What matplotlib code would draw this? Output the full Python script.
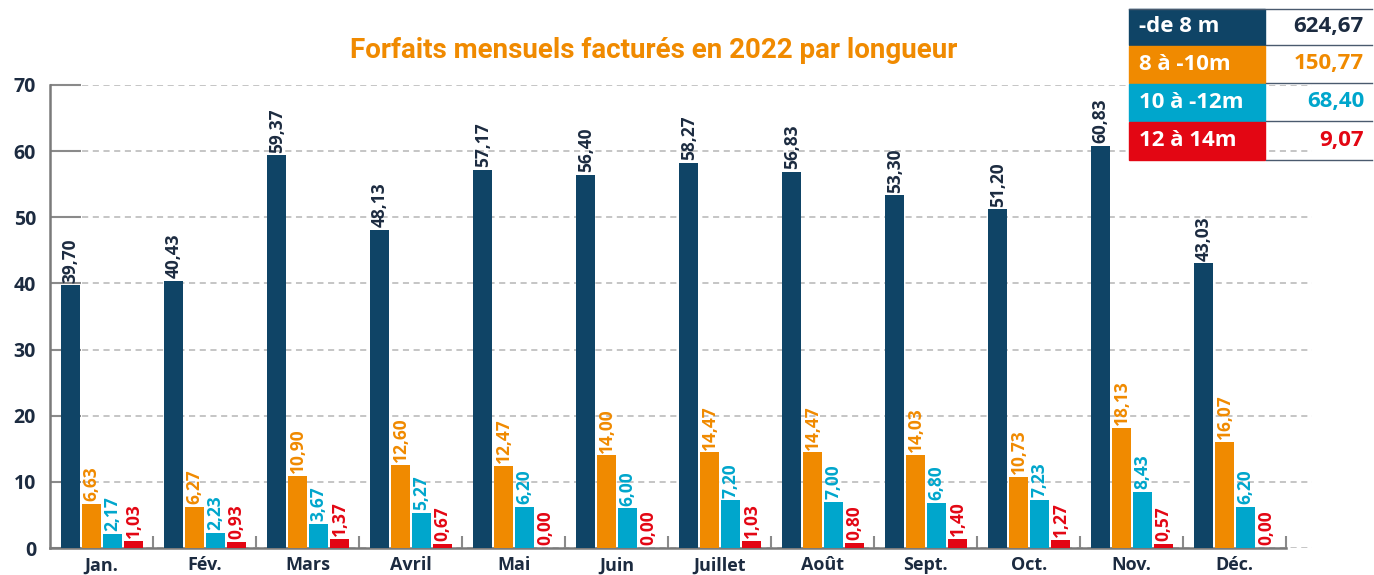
import matplotlib
matplotlib.use("Agg")
import matplotlib.pyplot as plt
from matplotlib.patches import Rectangle
from matplotlib.lines import Line2D
import numpy as np

# données
mois = ["Jan.", "Fév.", "Mars", "Avril", "Mai", "Juin", "Juillet", "Août", "Sept.", "Oct.", "Nov.", "Déc."]
moins_8m = [39.70, 40.43, 59.37, 48.13, 57.17, 56.40, 58.27, 56.83, 53.30, 51.20, 60.83, 43.03]
de_8_10m = [6.63, 6.27, 10.90, 12.60, 12.47, 14.00, 14.47, 14.47, 14.03, 10.73, 18.13, 16.07]
de_10_12m = [2.17, 2.23, 3.67, 5.27, 6.20, 6.00, 7.20, 7.00, 6.80, 7.23, 8.43, 6.20]
de_12_14m = [1.03, 0.93, 1.37, 0.67, 0.00, 0.00, 1.03, 0.80, 1.40, 1.27, 0.57, 0.00]

legende = ["-de 8 m", "8 à -10m", "10 à -12m", "12 à 14m"]
totaux = ["624,67", "150,77", "68,40", "9,07"]

NAVY = "#0f4466"
TXT = "#1c2b40"
ORANGE = "#f08a00"
BLUE = "#00a6cc"
RED = "#e30613"
couleurs = [NAVY, ORANGE, BLUE, RED]
couleurs_txt = [TXT, ORANGE, BLUE, RED]

plt.rcParams['font.family'] = ['Open Sans', 'DejaVu Sans']

fig = plt.figure(figsize=(13.74, 5.75), dpi=100)
ax = fig.add_axes([50 / 1374, 27 / 575, 1262 / 1374, 463 / 575])

series = [moins_8m, de_8_10m, de_10_12m, de_12_14m]
x = np.arange(len(mois))
width = 0.185
for k, (vals, c, ct) in enumerate(zip(series, couleurs, couleurs_txt)):
    pos = x + 0.2 + k * 0.2035
    ax.bar(pos, vals, width, color=c, zorder=3)
    for px, v in zip(pos, vals):
        ax.annotate(f"{v:.2f}".replace(".", ","), (px, v), xytext=(0, 2),
                    textcoords="offset points", rotation=90, ha="center", va="bottom",
                    fontsize=12.5, fontweight="bold", color=ct, zorder=4)

ax.set_ylim(0, 70)
ax.set_xlim(0, 12.25)
ax.set_yticks(range(0, 71, 10))
ax.tick_params(axis="y", direction="in", length=22, width=1.5, color="#8a8a8a",
               labelsize=14, labelcolor=TXT, pad=10)
for lab in ax.get_yticklabels():
    lab.set_fontweight("bold")
ax.yaxis.grid(True, linestyle=(0, (4, 3)), color="#b5b5b5", linewidth=1.1, zorder=0)

ax.set_xticks(x + 0.5)
ax.set_xticklabels(mois, fontsize=13, fontweight="bold", color=TXT)
ax.tick_params(axis="x", length=0, pad=6)
ax.set_xticks(np.arange(1, 13), minor=True)
ax.tick_params(axis="x", which="minor", direction="in", length=9, width=1.5, color="#8a8a8a")

for s in ["top", "right"]:
    ax.spines[s].set_visible(False)
ax.spines["left"].set_color("#7a7a7a")
ax.spines["left"].set_linewidth(1.8)
ax.spines["bottom"].set_color("#7a7a7a")
ax.spines["bottom"].set_linewidth(1.8)
ax.spines["bottom"].set_bounds(0, 12)
ax.set_axisbelow(True)

fig.text(654 / 1374, 1 - 50 / 575, "Forfaits mensuels facturés en 2022 par longueur",
         ha="center", va="center", fontsize=20, fontweight="bold", color=ORANGE,
         family=["Roboto", "DejaVu Sans"])

# tableau des totaux
W, H = 1374, 575
rows_y = [8, 45, 83, 121, 160]
for i, (lab, tot) in enumerate(zip(legende, totaux)):
    y0, y1 = rows_y[i], rows_y[i + 1]
    fig.patches.append(Rectangle((1129 / W, 1 - y1 / H), (1265 - 1129) / W, (y1 - y0 - 1) / H,
                                 transform=fig.transFigure, color=couleurs[i]))
    yc = 1 - (y0 + y1) / 2 / H
    fig.text(1139 / W, yc, lab, ha="left", va="center", fontsize=16, fontweight="bold", color="white")
    fig.text(1364 / W, yc, tot, ha="right", va="center", fontsize=16, fontweight="bold",
             color=couleurs_txt[i])
    fig.lines.append(Line2D([1266 / W, 1372 / W], [1 - y1 / H, 1 - y1 / H], transform=fig.transFigure,
                            color="#4a5a6e", linewidth=1))
fig.lines.append(Line2D([1129 / W, 1372 / W], [1 - 9 / H, 1 - 9 / H], transform=fig.transFigure,
                        color="#4a5a6e", linewidth=1))

fig.savefig("out.png", dpi=100)
